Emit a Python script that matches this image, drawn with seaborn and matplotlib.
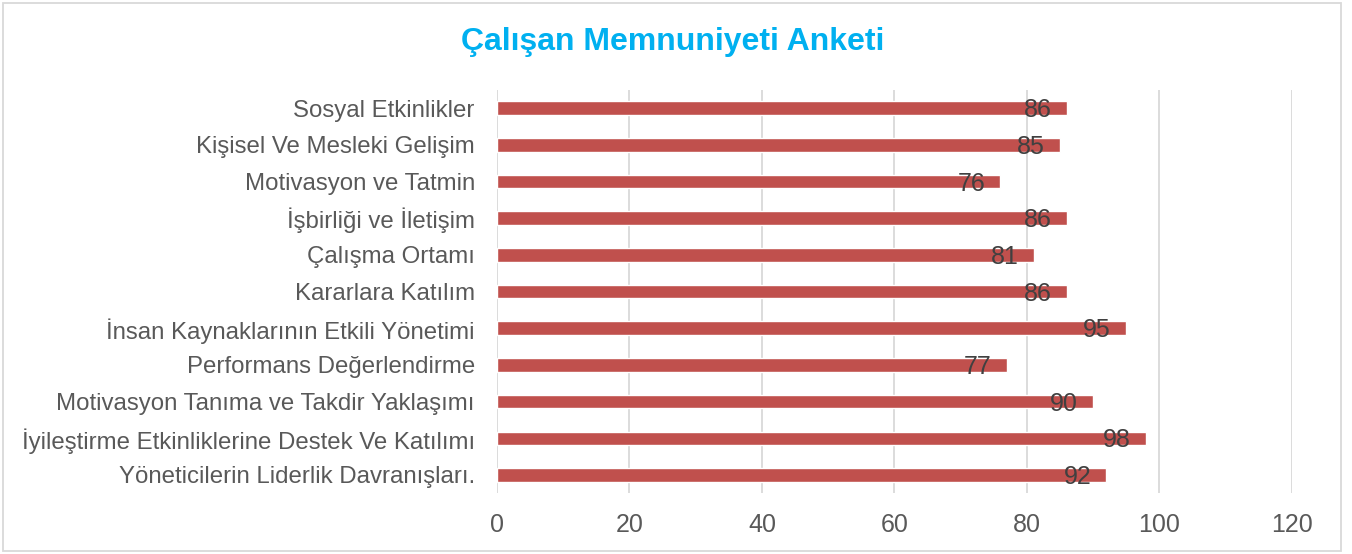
import matplotlib
matplotlib.use("Agg")
import matplotlib.pyplot as plt
import pandas as pd
import seaborn as sns
from matplotlib.patches import Rectangle

# veriler (yukaridan asagiya)
kategoriler = [
    "Sosyal Etkinlikler",
    "Kişisel Ve Mesleki Gelişim",
    "Motivasyon ve Tatmin",
    "İşbirliği ve İletişim",
    "Çalışma Ortamı",
    "Kararlara Katılım",
    "İnsan Kaynaklarının Etkili Yönetimi",
    "Performans Değerlendirme",
    "Motivasyon Tanıma ve Takdir Yaklaşımı",
    "İyileştirme Etkinliklerine Destek Ve Katılımı",
    "Yöneticilerin Liderlik Davranışları.",
]
puanlar = [86, 85, 76, 86, 81, 86, 95, 77, 90, 98, 92]
x_ticks = [0, 20, 40, 60, 80, 100, 120]

df = pd.DataFrame({"kategori": kategoriler, "puan": puanlar})

sns.set_theme(style="white")
plt.rcParams["font.family"] = ["Liberation Sans", "DejaVu Sans"]

fig = plt.figure(figsize=(13.52, 5.54), dpi=100)
ax = fig.add_axes([0.3676, 0.1095, 0.588, 0.7285])

sns.barplot(data=df, x="puan", y="kategori", orient="h", color="#C0504D",
            saturation=1, width=0.37, ax=ax, zorder=3)

# degerler
for i, v in enumerate(puanlar):
    ax.annotate(str(v), (v, i), xytext=(-11, -1.5), textcoords="offset points",
                ha="right", va="center", fontsize=18, color="#404040", zorder=4)

ax.set_xlim(0, 120)
ax.set_xticks(x_ticks)
ax.set_xlabel("")
ax.set_ylabel("")
ax.grid(axis="x", color="#D9D9D9", linewidth=1.3, zorder=0)
ax.grid(axis="y", visible=False)
for s in ax.spines.values():
    s.set_visible(False)
ax.tick_params(axis="x", length=0, pad=14, labelsize=18, labelcolor="#595959")
ax.tick_params(axis="y", length=0, pad=16, labelsize=17.3, labelcolor="#595959")
for t in ax.get_yticklabels():
    t.set_y(t.get_position()[1])
    t.set_va("center_baseline")

fig.text(0.4975, 0.924, "Çalışan Memnuniyeti Anketi", ha="center", va="center",
         fontsize=23, fontweight="bold", color="#00B0F0")

# cerceve
fig.patches.append(Rectangle((3 / 1352, 3 / 554), 1338 / 1352, 548 / 554,
                             transform=fig.transFigure, fill=False,
                             edgecolor="#D9D9D9", linewidth=1.3))

fig.savefig("out.png", dpi=100)
